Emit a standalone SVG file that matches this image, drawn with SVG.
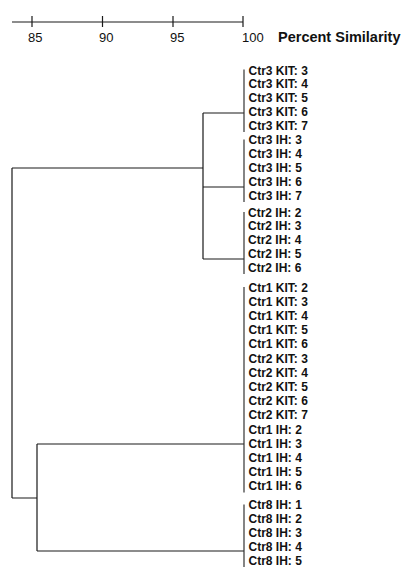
<svg xmlns="http://www.w3.org/2000/svg" width="408" height="574" viewBox="0 0 408 574">
<style>
.ln{stroke:#1a1a1a;stroke-width:1.2;fill:none}
.bar{stroke:#333;stroke-width:1.2;fill:none}
.lab{font-family:"Liberation Sans",Arial,sans-serif;font-size:12px;font-weight:bold;fill:#111}
.tk{font-family:"Liberation Sans",Arial,sans-serif;font-size:13px;fill:#111}
.ttl{font-family:"Liberation Sans",Arial,sans-serif;font-size:14.5px;font-weight:bold;fill:#111}
</style>
<rect width="408" height="574" fill="#fff"/>
<g id="axis">
<path class="ln" d="M12 22H243M32 16V27M102.5 16V27M173 16V27M243 16V27"/>
<text class="tk" x="28" y="42">85</text>
<text class="tk" x="99" y="42">90</text>
<text class="tk" x="170" y="42">95</text>
<text class="tk" x="242" y="42">100</text>
<text class="ttl" x="278" y="42">Percent Similarity</text>
</g>
<g id="connectors">
<path class="ln" d="M203 113V259M203 113H244M203 187H244M203 259H244M12 168H203M12 168V498M12 498H37M37 444V551M37 444H244M37 551H244"/>
</g>
<g id="cluster-ctr3-kit">
<path class="bar" d="M244 69.5V132"/>
<text class="lab" x="248.5" y="74.5">Ctr3 KIT: 3</text>
<text class="lab" x="248.5" y="88.4">Ctr3 KIT: 4</text>
<text class="lab" x="248.5" y="102.3">Ctr3 KIT: 5</text>
<text class="lab" x="248.5" y="116.2">Ctr3 KIT: 6</text>
<text class="lab" x="248.5" y="130.1">Ctr3 KIT: 7</text>
</g>
<g id="cluster-ctr3-ih">
<path class="bar" d="M244 139.5V202"/>
<text class="lab" x="248.5" y="144">Ctr3 IH: 3</text>
<text class="lab" x="248.5" y="157.9">Ctr3 IH: 4</text>
<text class="lab" x="248.5" y="171.8">Ctr3 IH: 5</text>
<text class="lab" x="248.5" y="185.7">Ctr3 IH: 6</text>
<text class="lab" x="248.5" y="199.6">Ctr3 IH: 7</text>
</g>
<g id="cluster-ctr2-ih">
<path class="bar" d="M244 212V274"/>
<text class="lab" x="248" y="216.5">Ctr2 IH: 2</text>
<text class="lab" x="248" y="230.4">Ctr2 IH: 3</text>
<text class="lab" x="248" y="244.3">Ctr2 IH: 4</text>
<text class="lab" x="248" y="258.2">Ctr2 IH: 5</text>
<text class="lab" x="248" y="272.1">Ctr2 IH: 6</text>
</g>
<g id="cluster-ctr1-ctr2-kit-ctr1-ih">
<path class="bar" d="M244 287V492.5"/>
<text class="lab" x="248.5" y="291.5">Ctr1 KIT: 2</text>
<text class="lab" x="248.5" y="305.7">Ctr1 KIT: 3</text>
<text class="lab" x="248.5" y="319.9">Ctr1 KIT: 4</text>
<text class="lab" x="248.5" y="334.1">Ctr1 KIT: 5</text>
<text class="lab" x="248.5" y="348.3">Ctr1 KIT: 6</text>
<text class="lab" x="248.5" y="362.5">Ctr2 KIT: 3</text>
<text class="lab" x="248.5" y="376.7">Ctr2 KIT: 4</text>
<text class="lab" x="248.5" y="390.9">Ctr2 KIT: 5</text>
<text class="lab" x="248.5" y="405.1">Ctr2 KIT: 6</text>
<text class="lab" x="248.5" y="419.3">Ctr2 KIT: 7</text>
<text class="lab" x="248.5" y="433.5">Ctr1 IH: 2</text>
<text class="lab" x="248.5" y="447.7">Ctr1 IH: 3</text>
<text class="lab" x="248.5" y="461.9">Ctr1 IH: 4</text>
<text class="lab" x="248.5" y="476.1">Ctr1 IH: 5</text>
<text class="lab" x="248.5" y="490.3">Ctr1 IH: 6</text>
</g>
<g id="cluster-ctr8-ih">
<path class="bar" d="M244 504.5V567"/>
<text class="lab" x="248.5" y="509">Ctr8 IH: 1</text>
<text class="lab" x="248.5" y="523">Ctr8 IH: 2</text>
<text class="lab" x="248.5" y="537">Ctr8 IH: 3</text>
<text class="lab" x="248.5" y="551">Ctr8 IH: 4</text>
<text class="lab" x="248.5" y="565">Ctr8 IH: 5</text>
</g>
</svg>
